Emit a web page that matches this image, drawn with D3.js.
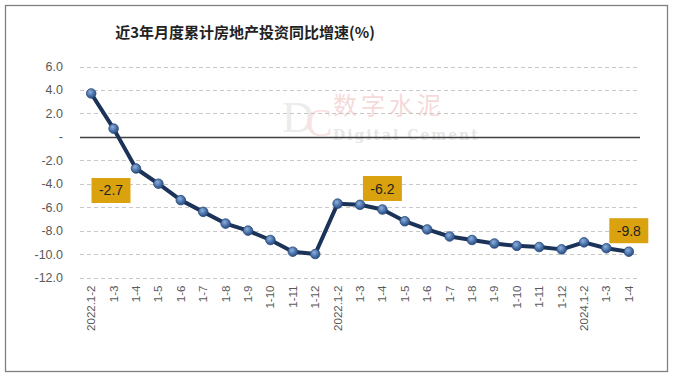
<!DOCTYPE html>
<html><head><meta charset="utf-8">
<script src="https://cdn.jsdelivr.net/npm/d3@7"></script>
<style>html,body{margin:0;padding:0;background:#fff;}</style>
</head><body>
<svg id="chart" width="674" height="379"></svg>
<script>
const categories = ["2022.1-2","1-3","1-4","1-5","1-6","1-7","1-8","1-9","1-10","1-11","1-12",
  "2022.1-2 ","1-3 ","1-4 ","1-5 ","1-6 ","1-7 ","1-8 ","1-9 ","1-10 ","1-11 ","1-12 ",
  "2024.1-2","1-3  ","1-4  "];
const values = [3.7,0.7,-2.7,-4.0,-5.4,-6.4,-7.4,-8.0,-8.8,-9.8,-10.0,
  -5.7,-5.8,-6.2,-7.2,-7.9,-8.5,-8.8,-9.1,-9.3,-9.4,-9.6,
  -9.0,-9.5,-9.8];
const yTicks = [6,4,2,0,-2,-4,-6,-8,-10,-12];
const annotated = [2,13,24];
const title = "近3年月度累计房地产投资同比增速(%)";

const svg = d3.select("#chart");
const mLeft = 80, mRight = 640, mTop = 66.5, mBottom = 277.5;

svg.append("rect").attr("x",5.5).attr("y",5.5).attr("width",662).attr("height",366)
  .attr("fill","#fff").attr("stroke","#808080").attr("stroke-width",1.3);

const x = d3.scaleBand().domain(categories).range([mLeft,mRight]);
const y = d3.scaleLinear().domain([-12,6]).range([mBottom,mTop]);

// watermark
const wm = svg.append("g").attr("opacity",0.18);
const logo = wm.append("text").attr("x",282).attr("y",132).attr("font-family","Liberation Serif, serif")
  .attr("font-size",44).attr("letter-spacing",-8);
logo.append("tspan").attr("fill","#999").text("D");
logo.append("tspan").attr("fill","#d66").attr("dy",4).attr("font-size",40).text("C");
wm.append("text").attr("x",333).attr("y",114).attr("font-family","Noto Sans CJK SC")
  .attr("font-size",24).attr("fill","#c33").attr("letter-spacing",4).text("数字水泥");
wm.append("text").attr("x",333).attr("y",140).attr("font-family","DejaVu Serif, serif")
  .attr("font-weight","bold").attr("font-size",14).attr("fill","#777").attr("letter-spacing",2).text("Digital Cement");

// gridlines
svg.append("g").selectAll("line").data(yTicks.filter(d=>d!==0)).join("line")
  .attr("x1",mLeft).attr("x2",mRight).attr("y1",d=>Math.round(y(d))+0.5).attr("y2",d=>Math.round(y(d))+0.5)
  .attr("stroke","#c8c8c8").attr("stroke-dasharray","4,3").attr("stroke-width",1);

// y axis labels
const yAxis = d3.axisLeft(y).tickValues(yTicks).tickSize(0).tickPadding(0)
  .tickFormat(d=> d===0 ? "-" : d3.format(".1f")(d).replace("−","-"));
const gy = svg.append("g").attr("transform",`translate(${mLeft-17},0)`).call(yAxis);
gy.select(".domain").remove();
gy.selectAll("text").attr("font-family","Liberation Sans, Arial, sans-serif").attr("font-size",12.5).attr("fill","#595959");

// zero line
svg.append("line").attr("x1",mLeft).attr("x2",mRight).attr("y1",Math.round(y(0))+0.5).attr("y2",Math.round(y(0))+0.5)
  .attr("stroke","#404040").attr("stroke-width",1.3);

// x axis labels
const xAxis = d3.axisBottom(x).tickSize(0).tickPadding(0).tickFormat(d=>d.trim());
const gx = svg.append("g").attr("transform",`translate(0,${mBottom})`).call(xAxis);
gx.select(".domain").remove();
gx.selectAll("text").attr("font-family","Liberation Sans, Arial, sans-serif").attr("font-size",11.5)
  .attr("fill","#595959").attr("text-anchor","end").attr("dy",0)
  .attr("transform","translate(4,8) rotate(-90)");

// gradient for markers
const defs = svg.append("defs");
const grad = defs.append("radialGradient").attr("id","mk").attr("cx","40%").attr("cy","35%").attr("r","65%");
grad.append("stop").attr("offset","0%").attr("stop-color","#8fb0dc");
grad.append("stop").attr("offset","60%").attr("stop-color","#4a72aa");
grad.append("stop").attr("offset","100%").attr("stop-color","#2b4d80");

const cx = (d,i)=> x(categories[i]) + x.bandwidth()/2;
const line = d3.line().x((d,i)=>cx(d,i)).y(d=>y(d));
svg.append("path").datum(values).attr("d",line).attr("fill","none")
  .attr("stroke","#1b3358").attr("stroke-width",4).attr("stroke-linejoin","round");

svg.append("g").selectAll("circle").data(values).join("circle")
  .attr("cx",(d,i)=>cx(d,i)).attr("cy",d=>y(d)).attr("r",4.8)
  .attr("fill","url(#mk)").attr("stroke","#2a4a78").attr("stroke-width",0.8);

// annotations
const annOffsets = {2:[-25,22], 13:[0,-21], 24:[0,-21]};
annotated.forEach(i=>{
  const px = cx(values[i],i) + annOffsets[i][0];
  const py = y(values[i]) + annOffsets[i][1];
  const w = 39, h = 25;
  svg.append("rect").attr("x",px-w/2).attr("y",py-h/2).attr("width",w).attr("height",h).attr("fill","#daa20e");
  svg.append("text").attr("x",px).attr("y",py+5).attr("text-anchor","middle")
    .attr("font-family","Liberation Sans, Arial, sans-serif").attr("font-size",14).attr("fill","#222")
    .text(d3.format(".1f")(values[i]).replace("−","-"));
});

// title
svg.append("text").attr("x",245).attr("y",38).attr("text-anchor","middle")
  .attr("font-family","Noto Sans CJK SC").attr("font-weight","bold").attr("font-size",15)
  .attr("fill","#222").text(title);
</script>
</body></html>
